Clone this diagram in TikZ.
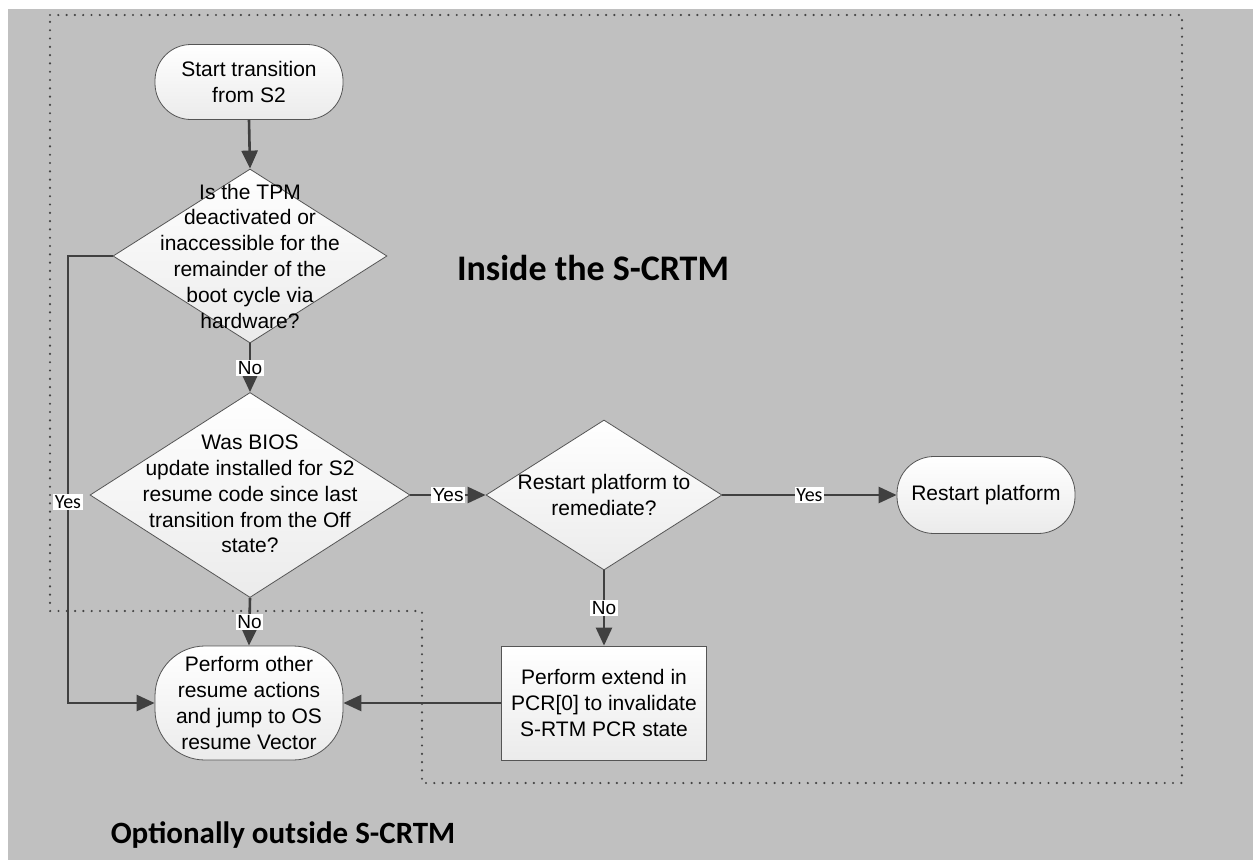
\documentclass[tikz,border=0pt]{standalone}
\usepackage{fontspec}
\setmainfont{Liberation Sans}
\newfontfamily\carlito{Carlito}
\usetikzlibrary{shapes.geometric, arrows.meta}
\definecolor{bggray}{HTML}{C0C0C0}
\definecolor{linegray}{HTML}{404040}
\definecolor{edgegray}{HTML}{555555}
\definecolor{dotgray}{HTML}{444444}
\definecolor{shadegray}{HTML}{EBEBEB}
\begin{document}
\begin{tikzpicture}[x=1pt,y=-1pt,
 shapebase/.style={draw=edgegray, line width=0.8pt, top color=white, bottom color=shadegray, inner sep=0pt},
 capsule/.style={shapebase, rectangle, rounded corners=#1},
 dia/.style={shapebase, diamond},
 procbox/.style={shapebase, rectangle},
 txt/.style={align=center, font=\fontsize{21}{25.8}\selectfont, inner sep=0pt},
 arr/.style={draw=linegray, line width=2.6pt, -{Triangle[length=18pt,width=16pt]}},
 lbl/.style={fill=white, text=black, inner sep=1.5pt, font=\fontsize{19}{21}\selectfont},
 lblc/.style={fill=white, text=black, inner sep=1.5pt, font=\carlito\fontsize{20}{22}\selectfont},
 titletxt/.style={font=\carlito\bfseries\fontsize{36}{40}\selectfont, inner sep=0pt, anchor=base},
 region/.style={draw=dotgray, line width=2.4pt, dash pattern=on 0pt off 8.3pt, line cap=round}
]
\useasboundingbox (0,0) rectangle (1253,860);
\fill[white] (0,0) rectangle (1253,860);
\fill[bggray] (8,9) rectangle (1253,860);

% dotted region boundary
\draw[region] (50,15) -- (1182,15) -- (1182,783) -- (422,783) -- (422,611) -- (50,611) -- cycle;

% nodes
\node[capsule=36pt, minimum width=188pt, minimum height=75pt] (start) at (249,82) {};
\node[txt] (startt) at (start) {Start transition\\from S2};

\node[dia, minimum width=274pt, minimum height=174pt] (d1) at (250,256) {};
\node[txt] (d1t) at (d1) {Is the TPM\\deactivated or\\inaccessible for the\\remainder of the\\boot cycle via\\hardware?};

\node[dia, minimum width=320pt, minimum height=205pt] (d2) at (250,495) {};
\node[txt] (d2t) at (250,494) {Was BIOS\\update installed for S2\\resume code since last\\transition from the Off\\state?};

\node[dia, minimum width=236pt, minimum height=150pt] (d3) at (604,495) {};
\node[txt] (d3t) at (d3) {Restart platform to\\remediate?};

\node[capsule=37pt, minimum width=178pt, minimum height=77pt] (restart) at (986,495) {};
\node[txt] (restartt) at (restart) {Restart platform};

\node[procbox, minimum width=205pt, minimum height=114pt] (rect) at (604,703) {};
\node[txt] (rectt) at (rect) {Perform extend in\\PCR[0] to invalidate\\S-RTM PCR state};

\node[capsule=50pt, minimum width=188pt, minimum height=114pt] (perf) at (249,703) {};
\node[txt] (perft) at (perf) {Perform other\\resume actions\\and jump to OS\\resume Vector};

% connectors
\coordinate (ycorner) at (68,256);
\draw[arr] (start.south) -- (d1.north);
\draw[arr] (d1.south) -- node[lbl]{No} (d2.north);
\draw[arr] (d1.west) -- (ycorner) |- node[lblc, pos=0.275]{Yes} (perf.west);
\draw[arr] (d2.east) -- node[lbl]{Yes} (d3.west);
\draw[arr] (d3.east) -- node[lblc]{Yes} (restart.west);
\draw[arr] (d3.south) -- node[lbl]{No} (rect.north);
\draw[arr] (d2.south) -- node[lbl]{No} (perf.north);
\draw[arr] (rect.west) -- (perf.east);

% titles
\node[titletxt] (inside) at (593,280) {Inside the S-CRTM};
\node[titletxt, font=\carlito\bfseries\fontsize{31}{35}\selectfont] (outside) at (283,843) {Optionally outside S-CRTM};
\end{tikzpicture}
\end{document}
